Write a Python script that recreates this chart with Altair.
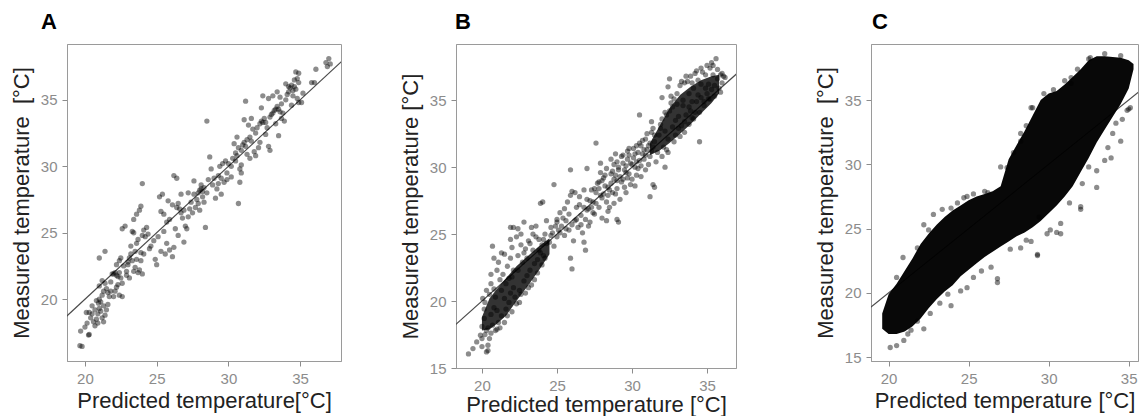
import altair as alt
import pandas as pd

FONT = "Liberation Sans"

# ---------------- Panel A: (predicted, measured) ----------------
a_points = [
    (19.65,16.5),(19.8,16.45),(19.7,17.6),(20.0,17.9),(20.25,17.3),(20.3,17.35),(20.15,18.2),(20.1,19.0),
    (20.4,18.6),(20.5,18.9),(20.6,18.3),(20.7,19.2),(20.8,18.5),(20.9,18.9),(20.95,19.7),(20.8,19.9),
    (20.7,18.0),(20.5,19.5),(20.3,19.0),(20.9,18.2),(21.0,19.3),
    (21.0,20.0),(21.1,19.8),(21.2,20.3),(21.3,19.5),(21.1,19.1),(21.2,18.6),(21.3,18.3),(21.4,18.8),
    (21.5,19.2),(21.3,20.6),(21.5,20.8),(21.6,20.5),(21.4,21.2),(21.0,23.1),(21.4,23.6),(21.7,20.2),
    (21.8,21.3),(21.9,21.9),(21.8,20.6),(21.2,21.4),(21.0,21.0),(21.6,19.6),
    (22.0,21.9),(22.1,22.0),(22.2,21.8),(22.3,21.7),(22.4,22.0),(22.2,22.6),(22.5,21.6),(22.6,21.2),
    (22.3,21.1),(22.4,22.9),(22.5,23.1),(22.6,25.3),(22.8,25.5),(22.9,21.8),(22.7,22.5),(22.1,20.6),
    (22.0,20.2),(22.4,20.3),(22.6,20.2),(22.2,20.9),(23.0,22.6),(22.9,22.1),
    (23.0,22.8),(23.1,23.1),(23.2,23.4),(23.3,25.1),(23.4,25.0),(23.2,24.0),(23.5,23.6),(23.4,26.0),
    (23.6,26.4),(23.8,26.7),(23.9,27.0),(24.0,28.7),(23.3,22.9),(23.5,22.4),(23.7,22.0),(23.8,22.2),
    (23.6,23.0),(23.9,23.5),(23.7,24.5),(24.0,24.8),(23.1,21.6),(23.4,22.1),(23.6,24.2),(23.9,22.9),
    (24.1,25.2),(24.2,24.7),(24.3,25.4),(24.6,24.0),(24.8,24.4),(24.1,23.4),(24.5,23.8),(24.0,21.9),
    (24.9,23.0),(24.4,24.9),
    (25.2,27.7),(25.4,27.9),(25.5,26.4),(25.3,26.6),(25.1,24.7),(25.3,23.6),(25.6,23.4),(25.7,25.8),
    (25.9,26.0),(25.8,27.4),(25.0,22.6),(25.5,25.1),(25.7,24.2),(25.9,23.7),
    (26.1,23.2),(26.2,23.9),(26.3,25.3),(26.5,24.8),(26.4,26.9),(26.5,27.2),(26.6,26.8),(26.7,26.5),
    (26.8,26.1),(26.2,29.3),(26.4,29.1),(26.9,24.3),(26.7,27.9),(26.9,26.7),(26.1,27.1),
    (27.0,25.5),(27.1,25.3),(27.2,26.2),(27.3,26.8),(27.4,27.3),(27.6,27.9),(27.8,27.5),(27.9,28.0),
    (27.5,26.5),(27.7,26.9),(27.2,28.0),(27.9,27.2),(28.0,26.7),(27.6,28.9),
    (28.0,28.2),(28.1,28.3),(28.2,28.1),(28.3,28.4),(28.1,28.6),(28.4,25.4),(28.5,33.4),(28.3,27.3),
    (28.6,29.0),(28.7,30.7),(28.8,29.8),(28.9,28.6),(28.5,28.0),(29.0,29.1),(28.2,27.7),
    (29.1,27.6),(29.2,28.3),(29.3,28.7),(29.5,29.1),(29.6,30.2),(29.8,30.4),(29.9,29.0),(29.4,30.0),
    (29.7,28.8),(29.9,29.5),(29.5,27.9),(29.3,29.3),
    (30.0,30.2),(30.2,30.0),(30.3,30.6),(30.5,31.0),(30.6,30.8),(30.7,31.4),(30.8,29.8),(30.9,30.1),
    (30.7,27.2),(30.8,28.8),(30.9,29.5),(30.4,31.7),(30.6,32.2),(30.2,29.2),(30.5,30.4),(30.9,31.2),
    (31.0,31.6),(31.1,31.8),(31.2,31.5),(31.3,32.0),(31.5,32.2),(31.2,34.9),(31.4,33.1),(31.6,33.6),
    (31.7,32.8),(31.8,31.1),(31.9,30.8),(31.5,30.6),(31.3,30.9),(31.6,31.9),(31.9,32.5),(31.1,33.5),
    (32.0,32.9),(32.2,33.2),(32.3,33.4),(32.4,33.3),(32.5,33.6),(32.6,33.3),(32.7,32.9),(32.3,34.4),
    (32.4,35.3),(32.8,35.1),(32.9,31.2),(32.8,31.5),(32.2,31.8),(32.6,32.4),(32.1,31.4),(32.9,33.7),
    (33.0,33.9),(33.1,34.0),(33.2,34.2),(33.3,34.3),(33.4,34.5),(33.5,34.3),(33.6,34.1),(33.7,33.6),
    (33.8,34.0),(33.1,35.3),(33.5,32.3),(33.9,33.4),(33.3,33.2),(33.7,34.7),(33.4,35.6),(33.6,35.2),
    (34.0,35.0),(34.1,35.4),(34.2,35.6),(34.3,35.9),(34.4,36.1),(34.5,35.7),(34.6,36.0),(34.7,35.8),
    (34.8,36.6),(34.9,37.0),(34.7,37.1),(34.6,36.5),(34.8,35.1),(34.9,34.8),(34.5,35.3),(34.0,36.2),
    (34.2,36.0),(34.4,34.6),(34.9,36.3),
    (35.1,34.8),(35.2,35.5),(35.8,36.3),(36.0,36.3),(36.1,37.3),(36.8,37.8),(37.0,38.1),(37.1,37.7),(36.9,37.5),
]

# ---------------- Panel B ----------------
b_points = [
    (19.1,16.05),(19.4,16.45),(19.65,16.95),(19.9,17.45),(20.3,16.2),(20.4,16.7),(20.5,17.2),(20.0,18.1),
    (20.15,18.7),(20.15,19.4),(20.05,20.2),(20.3,17.8),(20.6,17.6),(20.7,18.2),(20.2,19.9),(20.5,20.5),
    (20.8,20.9),(20.6,21.3),(20.9,17.8),(21.1,18.4),(21.3,18.9),(21.0,19.3),(21.2,21.6),(21.4,22.0),
    (20.8,23.2),(21.5,23.5),(21.0,22.3),(21.6,19.4),(21.8,19.9),(21.9,20.6),(22.1,21.0),(21.7,22.6),
    (21.9,23.2),(22.0,24.0),(22.3,24.8),(21.9,25.5),(22.4,25.4),(22.8,25.9),(23.3,25.5),(23.6,25.6),
    (22.6,24.2),(22.9,23.9),(22.2,20.3),(22.5,20.8),(22.8,21.5),(23.0,21.9),(23.2,22.3),(23.5,22.8),
    (23.7,23.1),(23.9,23.6),(24.0,24.2),(23.1,24.5),(23.4,25.0),(23.8,24.6),(24.2,25.0),(23.9,27.3),
    (24.05,27.4),(24.3,26.0),(24.1,23.4),(22.7,22.9),(22.4,22.3),(21.5,20.2),(22.0,21.8),
    (20.0,17.2),(20.2,17.5),(20.4,18.0),(20.6,19.0),(20.8,19.5),(20.9,20.3),(21.0,17.9),(21.2,18.0),
    (21.3,20.8),(21.5,18.4),(21.6,21.3),(21.7,18.9),(21.8,21.7),(22.0,19.2),(22.1,22.3),(22.3,19.8),
    (22.4,23.4),(22.5,19.9),(22.6,20.5),(22.8,23.6),(22.9,20.6),(23.0,23.2),(23.1,21.0),(23.2,24.3),
    (23.3,21.2),(23.4,23.8),(23.5,21.6),(23.6,24.8),(23.7,22.1),(23.8,23.8),(24.0,22.7),(24.1,24.6),
    (24.2,23.2),(24.3,24.3),(20.3,20.8),(20.6,22.0),(21.1,22.9),(21.3,23.6),(20.7,24.1),(21.9,24.6),
    (22.1,25.5),(22.6,25.0),(20.4,16.3),(20.0,16.6),
    (24.5,24.4),(24.7,25.1),(24.8,28.7),(24.9,25.6),(25.0,24.8),(25.2,25.1),(25.4,26.2),(25.5,24.9),
    (25.6,25.4),(25.2,26.6),(25.5,26.9),(25.7,27.4),(25.9,27.9),(25.9,29.8),(26.0,28.2),(26.2,28.1),
    (25.9,23.2),(26.0,22.4),(25.8,25.3),(26.1,24.5),(26.3,26.1),(26.5,27.2),(26.7,25.1),(26.8,24.4),
    (26.9,23.8),(26.6,25.7),(26.5,27.8),(26.8,28.3),(27.0,29.9),(26.9,26.1),(27.0,26.8),(27.1,25.6),
    (27.2,25.9),(27.3,27.0),(27.4,27.4),(27.6,28.1),(27.6,31.8),(27.8,28.4),(27.5,26.5),(27.9,27.9),
    (28.0,29.0),(28.2,29.4),(28.0,26.2),(28.3,26.0),(28.5,27.0),(28.4,28.5),(28.6,28.8),(28.7,29.7),
    (28.8,30.2),(28.9,28.0),(29.0,26.1),(29.1,25.9),(29.0,30.4),(29.2,29.3),(29.3,30.8),(29.4,29.1),
    (29.5,28.5),(29.6,30.1),(29.7,30.6),(29.8,29.5),(29.9,28.7),(30.0,30.2),(30.1,31.4),(30.2,30.0),
    (30.3,29.4),(30.4,31.1),(30.5,30.5),(30.6,31.6),(30.7,31.0),(30.8,30.6),(30.9,32.1),(31.0,31.3),
    (31.1,30.2),(31.2,31.8),(30.5,33.9),(31.3,32.6),(31.4,28.7),(31.2,27.8),(31.5,28.5),(31.6,30.4),
    (30.6,29.3),(30.9,29.8),(31.4,31.5),(28.3,27.4),(29.7,31.2),(27.9,30.3),(28.9,31.0),
    (27.2,27.5),(27.8,28.9),(28.1,28.0),(28.6,29.5),(29.1,29.8),(29.4,30.3),(29.8,30.9),(30.2,31.0),
    (28.4,27.9),(28.8,29.1),(29.6,29.6),(30.3,30.4),(27.5,28.4),(26.2,26.0),(25.0,25.9),(24.6,25.5),
    (26.6,26.4),(26.8,27.0),(27.0,27.6),(27.1,26.9),(27.3,28.3),(27.4,26.6),(27.6,27.3),(27.7,28.8),
    (27.8,27.0),(28.0,27.7),(28.1,29.2),(28.2,28.6),(28.3,29.9),(28.4,26.7),(28.5,28.3),(28.6,30.6),
    (28.7,28.1),(28.8,27.3),(28.9,29.4),(29.0,28.4),(29.1,30.0),(29.2,27.6),(29.3,28.9),(29.4,30.9),
    (29.5,29.8),(29.6,28.1),(29.7,29.2),(29.8,31.4),(29.9,30.3),(30.0,29.1),(30.1,30.7),(30.2,28.6),
    (30.3,31.6),(30.4,29.9),(30.5,31.8),(30.6,30.1),(30.7,32.0),(30.8,31.3),(30.9,30.9),(31.0,32.5),
    (31.1,31.6),(31.2,30.8),(31.3,31.2),(31.4,32.9),(31.5,31.9),(25.0,26.1),(25.3,25.6),(25.6,26.0),
    (25.8,26.5),(26.0,25.7),(26.3,27.0),(24.6,24.9),(24.8,24.1),(25.1,25.3),(26.4,25.5),(27.9,29.6),(29.0,29.0),
    (31.8,32.4),(31.9,33.2),(32.0,33.6),(32.1,31.5),(32.2,30.0),(32.3,31.3),(32.4,32.1),(32.5,36.6),
    (32.6,34.8),(32.5,34.2),(32.7,33.0),(32.8,35.1),(32.9,32.4),(33.0,35.5),(33.1,33.8),(33.2,36.1),
    (33.3,33.1),(33.4,35.0),(33.5,36.3),(33.6,33.9),(33.7,36.4),(33.8,34.5),(33.9,36.8),(34.0,33.7),
    (34.1,35.9),(34.2,37.0),(34.3,34.9),(34.4,36.5),(34.5,31.9),(34.6,35.2),(34.7,37.1),(34.8,34.6),
    (34.9,36.9),(35.0,35.5),(35.1,36.2),(35.2,37.4),(35.3,35.8),(35.4,37.6),(35.5,36.1),(35.6,38.1),
    (35.7,36.6),(35.9,36.9),(36.1,36.8),(36.0,36.3),(35.2,35.1),(34.2,34.1),(33.5,33.4),(32.9,33.5),
    (33.4,34.6),(34.6,36.2),(35.8,35.9),(34.9,35.9),(33.8,35.5),(32.3,33.9),(33.1,32.9),(34.0,34.9),
    (35.4,36.9),(32.7,34.5),(33.9,34.2),(34.4,35.4),
    (31.5,32.4),(31.7,31.1),(31.9,32.9),(32.0,30.8),(32.2,34.1),(32.4,31.1),(32.6,35.3),(32.8,31.9),
    (33.0,34.7),(33.2,32.3),(33.3,36.4),(33.5,32.6),(33.6,36.8),(33.8,33.2),(34.0,36.3),(34.1,33.6),
    (34.3,37.2),(34.5,34.1),(34.6,37.4),(34.8,34.9),(35.0,37.6),(35.1,35.1),(35.3,37.8),(35.5,35.3),
    (35.7,37.3),(35.9,35.6),(36.0,37.0),(36.2,36.7),(32.2,32.7),(31.3,33.4),(32.0,35.2),(32.4,36.0),
]
# dense cores of panel B (predicted, lower measured, upper measured)
b_core1_pred = [20.0, 20.5, 21.0, 21.6, 22.3, 23.1, 23.8, 24.5]
b_core1_low = [17.8, 17.9, 18.3, 18.9, 20.0, 21.2, 22.3, 23.5]
b_core1_high = [18.8, 20.2, 20.9, 21.7, 22.6, 23.4, 24.1, 24.7]
b_core2_pred = [31.2, 31.8, 32.5, 33.2, 33.9, 34.6, 35.3, 35.8]
b_core2_low = [30.9, 31.2, 31.8, 32.5, 33.2, 34.0, 34.8, 35.5]
b_core2_high = [31.8, 33.0, 34.4, 35.4, 36.0, 36.5, 36.8, 36.9]

# ---------------- Panel C ----------------
c_core_pred = [19.6, 20.0, 20.5, 21.0, 21.5, 22.0, 22.5, 23.0, 23.5, 24.0, 24.5, 25.0, 25.5, 26.0, 26.5, 27.0,
               27.5, 28.0, 28.5, 29.0, 29.5, 30.0, 30.5, 31.0, 31.5, 32.0, 32.5, 33.0, 33.5, 34.0, 34.5, 35.0, 35.3]
c_core_low = [17.2, 16.8, 16.8, 17.0, 17.4, 18.0, 18.8, 19.5, 20.1, 20.6, 21.3, 21.8, 22.3, 22.8, 23.2, 23.6,
              24.0, 24.4, 24.7, 25.1, 25.6, 26.2, 26.8, 27.5, 28.3, 29.4, 30.5, 31.7, 32.7, 33.7, 34.7, 35.9, 37.4]
c_core_high = [18.4, 19.9, 20.7, 21.7, 22.7, 23.8, 24.6, 25.3, 25.9, 26.4, 26.8, 27.2, 27.5, 27.7, 27.9, 28.3,
               30.4, 31.5, 32.6, 33.8, 35.0, 35.5, 35.7, 36.2, 36.8, 37.4, 38.1, 38.4, 38.4, 38.35, 38.3, 38.1, 37.8]
c_points = [
    (29.3,23.0),(30.5,24.7),(30.75,25.4),(32.0,26.7),(32.1,28.5),(33.0,29.5),(33.5,30.3),(33.7,31.3),
    (34.0,32.4),(34.2,33.2),(34.6,33.5),(35.0,34.3),(29.4,25.9),(30.1,24.9),
    (29.0,34.4),(28.25,32.4),(27.0,29.8),(24.9,27.5),(31.4,36.3),(31.8,37.4),(32.5,38.2),
    (20.1,15.75),(20.5,15.9),(20.95,16.3),(21.2,16.8),(22.2,17.2),(21.8,17.8),(23.9,19.0),(23.7,19.9),
    (24.5,20.15),(24.9,20.4),(26.8,21.1),(26.8,20.8),(25.3,21.2),(26.4,22.0),(28.25,23.5),(29.3,22.9),
    (28.9,24.0),(29.9,24.6),(30.75,24.6),(32.0,26.5),(33.0,28.2),(33.9,30.5),(34.5,31.8),(34.9,34.2),(35.1,34.4),
    (20.5,21.2),(20.9,22.75),(22.2,25.3),(22.8,26.1),(23.35,26.5),(23.9,26.6),(24.7,27.4),(25.3,27.7),
    (26.2,27.8),(27.4,29.75),(28.25,31.8),(28.9,34.4),(29.7,35.5),(31.4,36.75),(32.6,38.3),(33.5,38.6),(34.5,38.45),
    (21.4,17.1),(22.6,18.4),(23.2,19.2),(25.8,21.7),(27.6,23.4),(28.6,24.1),(31.3,27.0),(32.5,29.8),
    (21.8,23.5),(22.5,24.9),(24.3,27.0),(26.0,27.9),(27.8,30.9),(28.6,33.0),(30.3,35.8),(31.0,36.5),
]

identity = [12, 42]  # reference line: measured = predicted

XTICKS = [20, 25, 30, 35]


def panel(points, cores, title, dx, xdom, ydom, yticks, w, h, xtitle, ytitle, xtpad):
    xs = alt.Scale(domain=xdom, nice=False, zero=False)
    ys = alt.Scale(domain=ydom, nice=False, zero=False)
    xa = alt.Axis(title=xtitle, values=XTICKS, titlePadding=xtpad, labelFlush=False)
    ya = alt.Axis(title=ytitle, values=yticks, labelFlush=False)
    layers = []
    ldf = pd.DataFrame({"pred": identity, "meas": identity})
    layers.append(
        alt.Chart(ldf).mark_line(color="#4a4a4a", strokeWidth=1.2, clip=True).encode(
            x=alt.X("pred:Q", scale=xs, axis=xa),
            y=alt.Y("meas:Q", scale=ys, axis=ya),
        )
    )
    for pred, low, high, op in cores:
        cdf = pd.DataFrame({"pred": pred, "low": low, "high": high})
        layers.append(
            alt.Chart(cdf).mark_area(color="black", opacity=op, clip=True).encode(
                x=alt.X("pred:Q", scale=xs, axis=xa),
                y=alt.Y("low:Q", scale=ys, axis=ya),
                y2="high:Q",
            )
        )
    pdf = pd.DataFrame(points, columns=["pred", "meas"])
    layers.append(
        alt.Chart(pdf).mark_circle(color="black", opacity=0.45, size=28, clip=True).encode(
            x=alt.X("pred:Q", scale=xs, axis=xa),
            y=alt.Y("meas:Q", scale=ys, axis=ya),
        )
    )
    return alt.layer(*layers).properties(
        width=w, height=h,
        title=alt.TitleParams(title, dx=dx, anchor="start", frame="group", fontSize=22,
                              fontWeight="bold", font=FONT, color="black", offset=10),
    )


chart_a = panel(a_points, [], "A", -26, [18.75, 37.85], [15.35, 39.2], [20, 25, 30, 35],
                274, 317, "Predicted temperature[°C]", "Measured temperature\u00a0 [°C]", 4)
chart_b = panel(b_points,
                [(b_core1_pred, b_core1_low, b_core1_high, 0.8),
                 (b_core2_pred, b_core2_low, b_core2_high, 0.8)],
                "B", -1, [18.27, 36.93], [15.0, 39.2], [15, 20, 25, 30, 35],
                280, 324, "Predicted temperature [°C]", "Measured temperature [°C]", 1)
chart_c = panel(c_points,
                [(c_core_pred, c_core_low, c_core_high, 0.97)],
                "C", 1, [18.9, 35.58], [14.7, 39.36], [15, 20, 25, 30, 35],
                267, 317, "Predicted temperature [°C]", "Measured temperature\u00a0 [°C]", 4)

chart = alt.hconcat(
    alt.hconcat(chart_a, chart_b, spacing=56),
    chart_c,
    spacing=76,
).properties(
    padding={"left": 9, "top": 10, "right": 0, "bottom": 0},
    background="white",
).configure_axis(
    labelFont=FONT, titleFont=FONT, labelFontSize=15, titleFontSize=22,
    labelColor="#8c8c8c", titleColor="#222222", titleFontWeight="normal",
    tickColor="#8c8c8c", tickSize=5, tickWidth=1, domainColor="#9a9a9a",
    grid=False, labelPadding=5,
).configure_axisY(
    titlePadding=7,
).configure_view(
    stroke="#9a9a9a", strokeWidth=1,
)

chart.save("out.html", embed_options={"renderer": "svg", "actions": False})
